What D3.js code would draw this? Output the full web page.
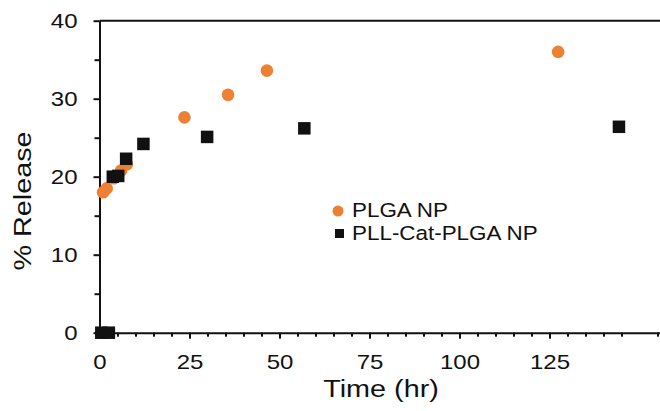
<!DOCTYPE html>
<html><head><meta charset="utf-8">
<script src="https://cdn.jsdelivr.net/npm/d3@7"></script>
<style>body{margin:0;background:#fff}svg{display:block}text{font-family:"Liberation Sans",Arial,sans-serif;fill:#111}</style>
</head><body>
<svg id="c" width="660" height="411"></svg>
<script>
// Data (time in hr, % release)
const plgaTime    = [1.0, 2.0, 4.0, 6.0, 7.6, 23.6, 35.7, 46.5, 127.4];
const plgaRelease = [18.0, 18.5, 19.8, 20.8, 21.6, 27.6, 30.5, 33.6, 36.0];
const pllTime     = [0.5, 2.6, 3.7, 5.2, 7.4, 12.2, 29.9, 56.9, 144.3];
const pllRelease  = [0, 0, 20.0, 20.1, 22.3, 24.2, 25.1, 26.2, 26.4];
const xMajorTicks = [0, 25, 50, 75, 100, 125];
const yMajorTicks = [0, 10, 20, 30, 40];
const seriesNames = ["PLGA NP", "PLL-Cat-PLGA NP"];

const SX = 1.2; // horizontal text stretch
const svg = d3.select("#c");
const x = d3.scaleLinear().domain([0, 155.7]).range([99.5, 660]);
const y = d3.scaleLinear().domain([0, 40]).range([332.7, 20.7]);

function stretch(sel, dx, dy) {
  sel.each(function() {
    d3.select(this).attr("x", null).attr("y", null).attr("dy", null)
      .attr("transform", `translate(${dx},${dy}) scale(${SX},1)`);
  });
}

// top border
svg.append("line").attr("x1", x(0)).attr("x2", 660).attr("y1", y(40)).attr("y2", y(40))
  .attr("stroke", "#111").attr("stroke-width", 2);

// y axis minor
const yMinor = d3.range(5, 40, 10);
svg.append("g").attr("transform", `translate(${x(0)},0)`)
  .call(d3.axisLeft(y).tickValues(yMinor).tickSize(5).tickFormat(""))
  .call(g => g.select(".domain").remove())
  .selectAll("line").attr("stroke", "#111").attr("stroke-width", 2);
// y axis major
const gy = svg.append("g").attr("transform", `translate(${x(0)},0)`)
  .call(d3.axisLeft(y).tickValues(yMajorTicks).tickSize(6).tickSizeOuter(0));
gy.select(".domain").attr("stroke", "#111").attr("stroke-width", 2);
gy.selectAll("line").attr("stroke", "#111").attr("stroke-width", 2);
gy.selectAll("text").attr("font-size", 20).attr("text-anchor", "end").call(stretch, -22, 7);

// x axis minor
const xMinor = d3.range(5, 156, 5).filter(v => v % 25 !== 0);
svg.append("g").attr("transform", `translate(0,${y(0)})`)
  .call(d3.axisBottom(x).tickValues(xMinor).tickSize(4).tickFormat(""))
  .call(g => g.select(".domain").remove())
  .selectAll("line").attr("stroke", "#111").attr("stroke-width", 2);
const gx = svg.append("g").attr("transform", `translate(0,${y(0)})`)
  .call(d3.axisBottom(x).tickValues(xMajorTicks).tickSize(6).tickSizeOuter(0));
gx.select(".domain").attr("stroke", "#111").attr("stroke-width", 2);
gx.selectAll("line").attr("stroke", "#111").attr("stroke-width", 2);
gx.selectAll("text").attr("font-size", 20).attr("text-anchor", "middle").call(stretch, 0, 36);

// axis titles
svg.append("text").attr("font-size", 24).attr("text-anchor", "middle")
  .attr("transform", `translate(381,397) scale(${SX},1)`).text("Time (hr)");
svg.append("text").attr("font-size", 24).attr("text-anchor", "middle")
  .attr("transform", `translate(31,201) rotate(-90) scale(${SX},1)`).text("% Release");

// data
const orange = "#EE8033";
svg.append("g").selectAll("circle").data(plgaTime.map((t, i) => [t, plgaRelease[i]]))
  .join("circle").attr("cx", d => x(d[0])).attr("cy", d => y(d[1])).attr("r", 6.3).attr("fill", orange);
const sq = 12.5;
svg.append("g").selectAll("rect").data(pllTime.map((t, i) => [t, pllRelease[i]]))
  .join("rect").attr("x", d => x(d[0]) - sq/2).attr("y", d => y(d[1]) - sq/2)
  .attr("width", sq).attr("height", sq).attr("fill", "#111");

// legend
const lg = svg.append("g");
lg.append("circle").attr("cx", 338).attr("cy", 211).attr("r", 5.5).attr("fill", orange);
lg.append("rect").attr("x", 335).attr("y", 229).attr("width", 9).attr("height", 9).attr("fill", "#111");
lg.append("text").attr("font-size", 19.5).attr("transform", `translate(352,217) scale(1.15,1)`).text(seriesNames[0]);
lg.append("text").attr("font-size", 19.5).attr("transform", `translate(352,240) scale(1.15,1)`).text(seriesNames[1]);
</script>
</body></html>
